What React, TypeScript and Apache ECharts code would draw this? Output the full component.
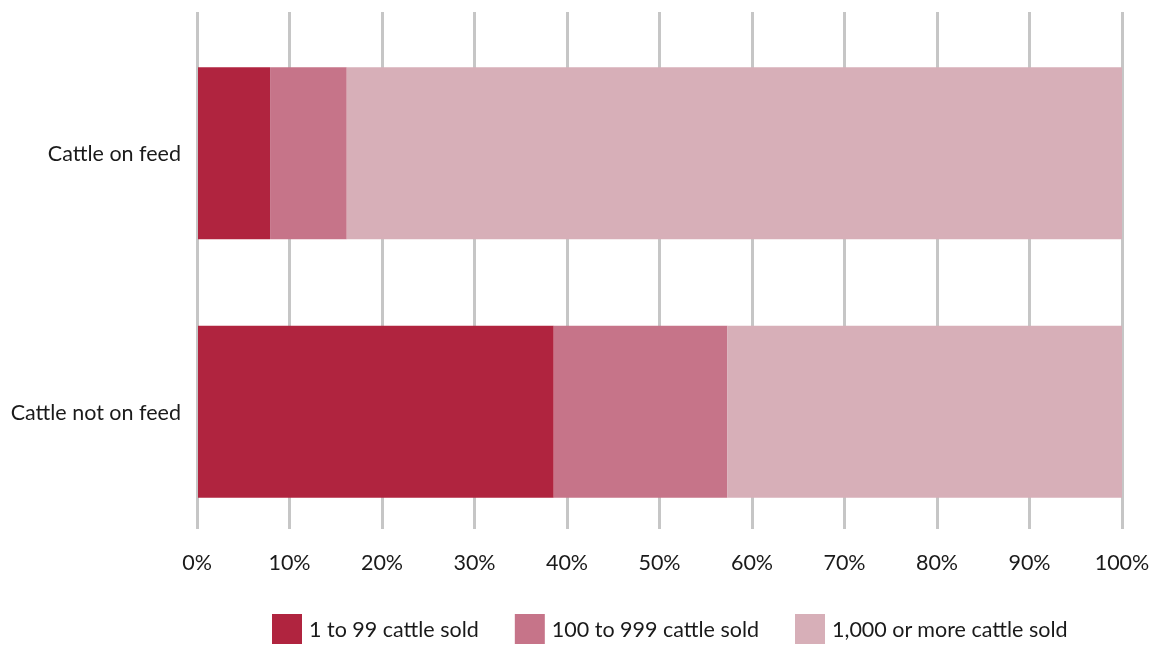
import React, { useEffect, useRef } from "react";
import * as echarts from "echarts";

const categories = ["Cattle on feed", "Cattle not on feed"];
const seriesNames = ["1 to 99 cattle sold", "100 to 999 cattle sold", "1,000 or more cattle sold"];
const small = [7.8, 38.5];
const medium = [8.3, 18.8];
const large = [83.9, 42.7];
const colors = ["#B0243F", "#C67489", "#D7AFB8"];

const FONT = "Lato, 'Noto Sans', sans-serif";
const FS = 21.5;

export default function App() {
  const ref = useRef<HTMLDivElement>(null);
  useEffect(() => {
    if (!ref.current) return;
    const chart = echarts.init(ref.current, undefined, { renderer: "svg" });
    const values = [small, medium, large];
    chart.setOption({
      animation: false,
      textStyle: { fontFamily: FONT },
      grid: [
        { left: 197, width: 925, top: 12, height: 517 },
        { left: 198, width: 924, top: 24, height: 517 },
      ],
      xAxis: [
        {
          gridIndex: 0,
          type: "value",
          min: 0,
          max: 100,
          interval: 10,
          axisLine: { show: false },
          axisTick: { show: false },
          splitLine: { show: true, lineStyle: { color: "#C6C6C6", width: 3 } },
          axisLabel: { formatter: "{value}%", fontSize: FS, color: "#1a1a1a", margin: 22, fontFamily: FONT },
        },
        {
          gridIndex: 1,
          type: "value",
          min: 0,
          max: 100,
          show: false,
        },
      ],
      yAxis: [
        { gridIndex: 0, type: "category", data: categories, show: false },
        {
          gridIndex: 1,
          type: "category",
          data: categories,
          inverse: true,
          axisLine: { show: false },
          axisTick: { show: false },
          splitLine: { show: false },
          axisLabel: { fontSize: FS, color: "#1a1a1a", margin: 17, fontFamily: FONT },
        },
      ],
      legend: {
        left: 272,
        top: 614,
        padding: 0,
        itemWidth: 30,
        itemHeight: 30,
        itemGap: 36,
        icon: "rect",
        data: seriesNames,
        textStyle: { fontSize: FS, color: "#1a1a1a", padding: [0, 0, 0, 2], fontFamily: FONT },
      },
      series: seriesNames.map((name, i) => ({
        name,
        type: "bar",
        stack: "total",
        xAxisIndex: 1,
        yAxisIndex: 1,
        barWidth: 172,
        itemStyle: { color: colors[i] },
        data: values[i],
      })),
    });
    return () => chart.dispose();
  }, []);
  return <div ref={ref} style={{ position: "fixed", left: 0, top: 0, width: 1156, height: 647 }} />;
}
